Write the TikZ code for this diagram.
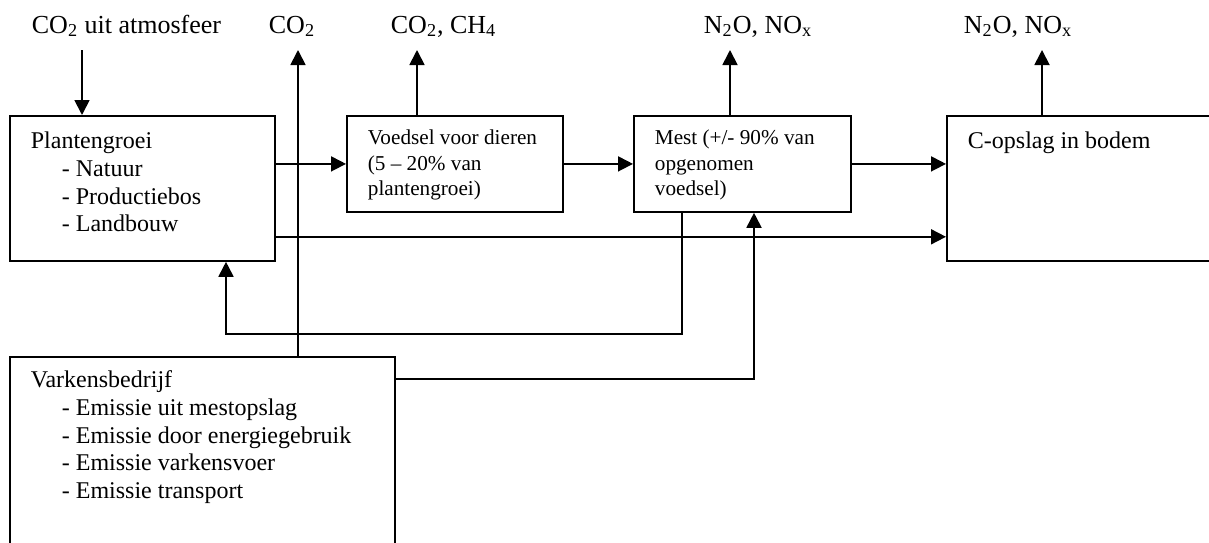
\documentclass[tikz,border=0pt]{standalone}
\usepackage{fontspec}
\setmainfont{Liberation Serif}
\usetikzlibrary{arrows.meta}
\newcommand{\bloktekst}[4]{\parbox[c][#2][t]{#1}{\raggedright\leftskip=10.5pt\rule{0pt}{#3}#4}}
\newcommand{\streep}{\\\hspace*{15.5pt}- }
\begin{document}
\begin{tikzpicture}[x=0.5pt, y=-0.5pt, line width=0.9pt,
    every node/.style={font=\fontsize{12}{13.8}\selectfont},
    blok/.style={draw, inner sep=0pt, anchor=north west},
    klein/.style={font=\fontsize{10.6}{12.75}\selectfont},
    gas/.style={anchor=base west, inner sep=0pt, font=\fontsize{13}{15}\selectfont},
    pijl/.style={-{Triangle[width=7.5pt,length=7.5pt]}}]
  \useasboundingbox (0,0) rectangle (1209,542);
  \node[gas] (atm) at (31,33) {CO\textsubscript{2} uit atmosfeer};
  \node[gas] (co2) at (268,33) {CO\textsubscript{2}};
  \node[gas] (ch4) at (390,33) {CO\textsubscript{2}, CH\textsubscript{4}};
  \node[gas] (noxa) at (703,33) {N\textsubscript{2}O, NO\textsubscript{x}};
  \node[gas] (noxb) at (963,33) {N\textsubscript{2}O, NO\textsubscript{x}};
  \node[blok] (plant) at (9,115) {\bloktekst{132.5pt}{72.5pt}{16.5pt}{Plantengroei\streep Natuur\streep Productiebos\streep Landbouw}};
  \node[blok, klein] (voedsel) at (346,115) {\bloktekst{108pt}{48pt}{14.5pt}{Voedsel voor dieren\\(5 – 20\% van\\plantengroei)}};
  \node[blok, klein] (mest) at (633,115) {\bloktekst{108.5pt}{48pt}{14.5pt}{Mest (+/- 90\% van\\opgenomen\\voedsel)}};
  \node[blok] (bodem) at (946,115) {\bloktekst{150pt}{72.5pt}{16.5pt}{C-opslag in bodem}};
  \node[blok] (varkens) at (9,356) {\bloktekst{192.5pt}{100pt}{15.5pt}{Varkensbedrijf\streep Emissie uit mestopslag\streep Emissie door energiegebruik\streep Emissie varkensvoer\streep Emissie transport}};
  \draw[pijl] ([xshift=36.5pt,yshift=32.5pt]plant.north west) -- ([xshift=36.5pt]plant.north west);
  \draw[pijl] ([xshift=144.5pt]varkens.north west) -- ++(0,-306);
  \draw[pijl] ([xshift=35.5pt]voedsel.north west) -- ++(0,-65);
  \draw[pijl] ([xshift=48.5pt]mest.north west) -- ++(0,-65);
  \draw[pijl] ([xshift=48pt]bodem.north west) -- ++(0,-65);
  \draw[pijl] (plant.east |- voedsel.west) -- (voedsel.west);
  \draw[pijl] (voedsel.east) -- (mest.west);
  \draw[pijl] (mest.east) -- (mest.east -| bodem.west);
  \draw[pijl] ([yshift=12.5pt]plant.south east) -- ([yshift=12.5pt]bodem.south west);
  \draw[pijl] ([xshift=24.5pt]mest.south west) -- ++(0,121) -| ([xshift=108.5pt]plant.south west);
  \draw[pijl] ([yshift=-11.5pt]varkens.north east) -| ([xshift=60.5pt]mest.south west);
\end{tikzpicture}
\end{document}
